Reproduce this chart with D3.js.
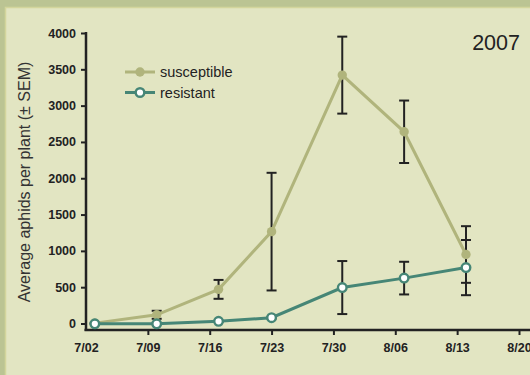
<!DOCTYPE html>
<html>
<head>
<meta charset="utf-8">
<script src="https://cdn.jsdelivr.net/npm/d3@7"></script>
<style>
  body { margin: 0; background: #e2e5c2; }
  svg { display: block; }
</style>
</head>
<body>
<svg id="chart" width="530" height="375"></svg>
<script>
// ---- data ----
const sampleDates = ["2007-07-03", "2007-07-10", "2007-07-17", "2007-07-23", "2007-07-31", "2007-08-07", "2007-08-14"];
const susceptibleMean = [5, 120, 470, 1265, 3420, 2640, 950];
const susceptibleSEM  = [5, 55, 130, 810, 530, 430, 390];
const resistantMean   = [-5, -5, 30, 80, 495, 625, 770];
const resistantSEM    = [3, 3, 5, 10, 365, 225, 380];
const xTickDates  = ["2007-07-02", "2007-07-09", "2007-07-16", "2007-07-23", "2007-07-30", "2007-08-06", "2007-08-13", "2007-08-20"];
const xTickLabels = ["7/02", "7/09", "7/16", "7/23", "7/30", "8/06", "8/13", "8/20"];
const yTicks = [0, 500, 1000, 1500, 2000, 2500, 3000, 3500, 4000];
const seriesNames = ["susceptible", "resistant"];
const yearLabel = "2007";
const yTitle = "Average aphids per plant (\u00B1 SEM)";

const parse = d3.timeParse("%Y-%m-%d");
const svg = d3.select("#chart");

// background
svg.append("rect").attr("x", 0).attr("y", 0).attr("width", 530).attr("height", 375).attr("fill", "#bbc493");
svg.append("rect").attr("x", 5.5).attr("y", 7.5).attr("width", 530).attr("height", 375)
  .attr("fill", "#e2e5c2").attr("stroke", "#d3d59c").attr("stroke-width", 1.5);

const x = d3.scaleTime().domain([parse(xTickDates[0]), parse(xTickDates[xTickDates.length - 1])]).range([86, 519]);
const y = d3.scaleLinear().domain([0, 4000]).range([323.5, 33]);
const axisY = 330;

const ink = "#222";
const susColor = "#b0b47c";
const resColor = "#468676";

// x axis
const xAxis = d3.axisBottom(x)
  .tickValues(xTickDates.map(parse))
  .tickFormat((d, i) => xTickLabels[i])
  .tickSize(5).tickSizeOuter(0);
const gx = svg.append("g").attr("transform", `translate(0,${axisY})`).call(xAxis);
gx.select(".domain").remove();
gx.append("line").attr("x1", 84.5).attr("x2", 530).attr("y1", 0).attr("y2", 0).attr("stroke", ink).attr("stroke-width", 2.5);
gx.selectAll(".tick line").attr("stroke", ink).attr("stroke-width", 2);
gx.selectAll(".tick").filter((d, i) => i === 0).select("line").remove();
gx.selectAll(".tick text").attr("fill", ink).attr("font-family", "Liberation Sans, Arial, sans-serif")
  .attr("font-weight", "bold").attr("font-size", "12.5px").attr("dy", "0").attr("y", 22);

// y axis
const yAxis = d3.axisLeft(y).tickValues(yTicks).tickFormat(d3.format("d")).tickSize(5).tickSizeOuter(0);
const gy = svg.append("g").attr("transform", `translate(86,0)`).call(yAxis);
gy.select(".domain").remove();
gy.append("line").attr("x1", 0).attr("x2", 0).attr("y1", y(4000) - 1).attr("y2", axisY + 1).attr("stroke", ink).attr("stroke-width", 2.5);
gy.selectAll(".tick line").attr("stroke", ink).attr("stroke-width", 2);
gy.selectAll(".tick text").attr("fill", ink).attr("font-family", "Liberation Sans, Arial, sans-serif")
  .attr("font-weight", "bold").attr("font-size", "12.5px").attr("x", -10);

// y title
svg.append("text").attr("transform", "translate(30,182) rotate(-90)")
  .attr("text-anchor", "middle").attr("font-family", "Liberation Sans, Arial, sans-serif")
  .attr("font-size", "16px").attr("fill", "#333").text(yTitle);

// year
svg.append("text").attr("x", 520).attr("y", 50).attr("text-anchor", "end")
  .attr("font-family", "Liberation Sans, Arial, sans-serif").attr("font-size", "21.5px").attr("fill", "#222").text(yearLabel);

const series = [
  { name: seriesNames[0], mean: susceptibleMean, sem: susceptibleSEM, color: susColor, hollow: false },
  { name: seriesNames[1], mean: resistantMean, sem: resistantSEM, color: resColor, hollow: true }
];

const line = d3.line().x(d => x(d.date)).y(d => y(d.v));

series.forEach(s => {
  s.pts = sampleDates.map((d, i) => ({ date: parse(d), v: s.mean[i], e: s.sem[i] }));
});

// error bars
series.forEach(s => {
  const g = svg.append("g").attr("stroke", ink).attr("stroke-width", 2);
  s.pts.forEach(p => {
    const cx = x(p.date);
    g.append("line").attr("x1", cx).attr("x2", cx).attr("y1", y(p.v - p.e)).attr("y2", y(p.v + p.e));
    [p.v - p.e, p.v + p.e].forEach(v => {
      g.append("line").attr("x1", cx - 5).attr("x2", cx + 5).attr("y1", y(v)).attr("y2", y(v));
    });
  });
});

// lines and markers
series.forEach(s => {
  svg.append("path").datum(s.pts).attr("d", line).attr("fill", "none")
    .attr("stroke", s.color).attr("stroke-width", 3);
  svg.append("g").selectAll("circle").data(s.pts).join("circle")
    .attr("cx", d => x(d.date)).attr("cy", d => y(d.v))
    .attr("r", s.hollow ? 4.3 : 4.7)
    .attr("fill", s.hollow ? "#ffffff" : s.color)
    .attr("stroke", s.hollow ? s.color : "none")
    .attr("stroke-width", s.hollow ? 2.4 : 0);
});

// legend
series.forEach((s, i) => {
  const ly = 72 + i * 20.5;
  const g = svg.append("g");
  g.append("line").attr("x1", 125).attr("x2", 155).attr("y1", ly).attr("y2", ly).attr("stroke", s.color).attr("stroke-width", 3);
  g.append("circle").attr("cx", 140).attr("cy", ly).attr("r", s.hollow ? 4.3 : 4.7)
    .attr("fill", s.hollow ? "#ffffff" : s.color)
    .attr("stroke", s.hollow ? s.color : "none").attr("stroke-width", s.hollow ? 2.4 : 0);
  g.append("text").attr("x", 160).attr("y", ly + 5)
    .attr("font-family", "Liberation Sans, Arial, sans-serif").attr("font-size", "14.5px").attr("fill", "#222").text(s.name);
});
</script>
</body>
</html>
